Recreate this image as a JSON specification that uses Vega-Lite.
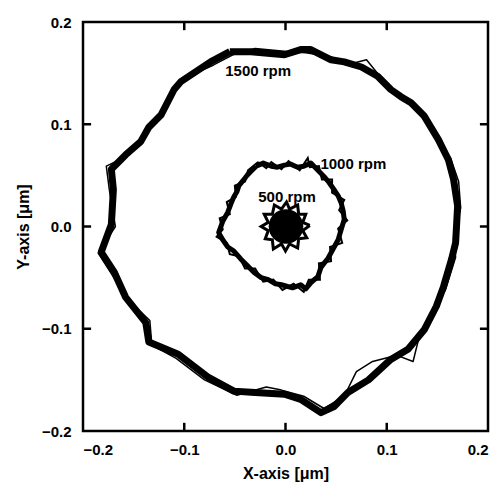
{
  "$schema": "https://vega.github.io/schema/vega-lite/v6.json",
  "width": 405,
  "height": 409,
  "autosize": {"type": "none"},
  "padding": {"left": 83, "top": 22, "right": 13, "bottom": 58},
  "background": "white",
  "config": {
    "view": {"stroke": "black", "strokeWidth": 2.5},
    "font": "Liberation Sans",
    "axis": {
      "domain": false,
      "grid": false,
      "ticks": false,
      "labelFont": "Liberation Sans",
      "labelFontWeight": "bold",
      "labelFontSize": 15,
      "labelColor": "black",
      "titleFont": "Liberation Sans",
      "titleFontWeight": "bold",
      "titleFontSize": 16,
      "titleColor": "black"
    }
  },
  "datasets": {
    "orbits": [
      {"s": "1500a", "i": 1, "x": -0.055, "y": 0.171},
      {"s": "1500a", "i": 2, "x": -0.034, "y": 0.171},
      {"s": "1500a", "i": 3, "x": -0.001, "y": 0.168},
      {"s": "1500a", "i": 4, "x": 0.015, "y": 0.173},
      {"s": "1500a", "i": 5, "x": 0.025, "y": 0.173},
      {"s": "1500a", "i": 6, "x": 0.045, "y": 0.163},
      {"s": "1500a", "i": 7, "x": 0.058, "y": 0.161},
      {"s": "1500a", "i": 8, "x": 0.075, "y": 0.156},
      {"s": "1500a", "i": 9, "x": 0.091, "y": 0.147},
      {"s": "1500a", "i": 10, "x": 0.104, "y": 0.134},
      {"s": "1500a", "i": 11, "x": 0.114, "y": 0.127},
      {"s": "1500a", "i": 12, "x": 0.124, "y": 0.121},
      {"s": "1500a", "i": 13, "x": 0.137, "y": 0.108},
      {"s": "1500a", "i": 14, "x": 0.151, "y": 0.085},
      {"s": "1500a", "i": 15, "x": 0.161, "y": 0.065},
      {"s": "1500a", "i": 16, "x": 0.166, "y": 0.046},
      {"s": "1500a", "i": 17, "x": 0.170, "y": 0.020},
      {"s": "1500a", "i": 18, "x": 0.168, "y": -0.016},
      {"s": "1500a", "i": 19, "x": 0.164, "y": -0.032},
      {"s": "1500a", "i": 20, "x": 0.156, "y": -0.059},
      {"s": "1500a", "i": 21, "x": 0.149, "y": -0.078},
      {"s": "1500a", "i": 22, "x": 0.137, "y": -0.101},
      {"s": "1500a", "i": 23, "x": 0.121, "y": -0.120},
      {"s": "1500a", "i": 24, "x": 0.104, "y": -0.130},
      {"s": "1500a", "i": 25, "x": 0.082, "y": -0.150},
      {"s": "1500a", "i": 26, "x": 0.062, "y": -0.162},
      {"s": "1500a", "i": 27, "x": 0.048, "y": -0.176},
      {"s": "1500a", "i": 28, "x": 0.035, "y": -0.182},
      {"s": "1500a", "i": 29, "x": 0.015, "y": -0.169},
      {"s": "1500a", "i": 30, "x": -0.001, "y": -0.164},
      {"s": "1500a", "i": 31, "x": -0.034, "y": -0.162},
      {"s": "1500a", "i": 32, "x": -0.051, "y": -0.161},
      {"s": "1500a", "i": 33, "x": -0.077, "y": -0.147},
      {"s": "1500a", "i": 34, "x": -0.106, "y": -0.125},
      {"s": "1500a", "i": 35, "x": -0.135, "y": -0.113},
      {"s": "1500a", "i": 36, "x": -0.138, "y": -0.094},
      {"s": "1500a", "i": 37, "x": -0.158, "y": -0.069},
      {"s": "1500a", "i": 38, "x": -0.169, "y": -0.045},
      {"s": "1500a", "i": 39, "x": -0.182, "y": -0.025},
      {"s": "1500a", "i": 40, "x": -0.172, "y": 0.002},
      {"s": "1500a", "i": 41, "x": -0.170, "y": 0.036},
      {"s": "1500a", "i": 42, "x": -0.172, "y": 0.056},
      {"s": "1500a", "i": 43, "x": -0.158, "y": 0.070},
      {"s": "1500a", "i": 44, "x": -0.143, "y": 0.083},
      {"s": "1500a", "i": 45, "x": -0.135, "y": 0.097},
      {"s": "1500a", "i": 46, "x": -0.123, "y": 0.109},
      {"s": "1500a", "i": 47, "x": -0.110, "y": 0.134},
      {"s": "1500a", "i": 48, "x": -0.103, "y": 0.142},
      {"s": "1500a", "i": 49, "x": -0.074, "y": 0.161},
      {"s": "1500a", "i": 50, "x": -0.055, "y": 0.171},

      {"s": "1500b", "i": 1, "x": -0.052, "y": 0.168},
      {"s": "1500b", "i": 2, "x": -0.030, "y": 0.174},
      {"s": "1500b", "i": 3, "x": 0.004, "y": 0.171},
      {"s": "1500b", "i": 4, "x": 0.020, "y": 0.170},
      {"s": "1500b", "i": 5, "x": 0.045, "y": 0.166},
      {"s": "1500b", "i": 6, "x": 0.060, "y": 0.158},
      {"s": "1500b", "i": 7, "x": 0.080, "y": 0.163},
      {"s": "1500b", "i": 8, "x": 0.094, "y": 0.146},
      {"s": "1500b", "i": 9, "x": 0.108, "y": 0.131},
      {"s": "1500b", "i": 10, "x": 0.119, "y": 0.126},
      {"s": "1500b", "i": 11, "x": 0.133, "y": 0.110},
      {"s": "1500b", "i": 12, "x": 0.148, "y": 0.088},
      {"s": "1500b", "i": 13, "x": 0.163, "y": 0.067},
      {"s": "1500b", "i": 14, "x": 0.171, "y": 0.044},
      {"s": "1500b", "i": 15, "x": 0.173, "y": 0.018},
      {"s": "1500b", "i": 16, "x": 0.166, "y": -0.012},
      {"s": "1500b", "i": 17, "x": 0.168, "y": -0.030},
      {"s": "1500b", "i": 18, "x": 0.158, "y": -0.062},
      {"s": "1500b", "i": 19, "x": 0.146, "y": -0.082},
      {"s": "1500b", "i": 20, "x": 0.133, "y": -0.104},
      {"s": "1500b", "i": 21, "x": 0.126, "y": -0.132},
      {"s": "1500b", "i": 22, "x": 0.110, "y": -0.126},
      {"s": "1500b", "i": 23, "x": 0.086, "y": -0.132},
      {"s": "1500b", "i": 24, "x": 0.070, "y": -0.142},
      {"s": "1500b", "i": 25, "x": 0.058, "y": -0.166},
      {"s": "1500b", "i": 26, "x": 0.038, "y": -0.178},
      {"s": "1500b", "i": 27, "x": 0.018, "y": -0.166},
      {"s": "1500b", "i": 28, "x": -0.004, "y": -0.160},
      {"s": "1500b", "i": 29, "x": -0.019, "y": -0.157},
      {"s": "1500b", "i": 30, "x": -0.048, "y": -0.165},
      {"s": "1500b", "i": 31, "x": -0.080, "y": -0.150},
      {"s": "1500b", "i": 32, "x": -0.108, "y": -0.129},
      {"s": "1500b", "i": 33, "x": -0.132, "y": -0.116},
      {"s": "1500b", "i": 34, "x": -0.134, "y": -0.092},
      {"s": "1500b", "i": 35, "x": -0.155, "y": -0.072},
      {"s": "1500b", "i": 36, "x": -0.172, "y": -0.046},
      {"s": "1500b", "i": 37, "x": -0.185, "y": -0.026},
      {"s": "1500b", "i": 38, "x": -0.168, "y": 0.000},
      {"s": "1500b", "i": 39, "x": -0.174, "y": 0.036},
      {"s": "1500b", "i": 40, "x": -0.177, "y": 0.059},
      {"s": "1500b", "i": 41, "x": -0.160, "y": 0.067},
      {"s": "1500b", "i": 42, "x": -0.146, "y": 0.080},
      {"s": "1500b", "i": 43, "x": -0.132, "y": 0.100},
      {"s": "1500b", "i": 44, "x": -0.126, "y": 0.106},
      {"s": "1500b", "i": 45, "x": -0.113, "y": 0.130},
      {"s": "1500b", "i": 46, "x": -0.100, "y": 0.145},
      {"s": "1500b", "i": 47, "x": -0.071, "y": 0.158},
      {"s": "1500b", "i": 48, "x": -0.052, "y": 0.168},

      {"s": "1000a", "i": 1, "x": -0.029, "y": 0.059},
      {"s": "1000a", "i": 2, "x": -0.034, "y": 0.054},
      {"s": "1000a", "i": 3, "x": -0.038, "y": 0.050},
      {"s": "1000a", "i": 4, "x": -0.041, "y": 0.046},
      {"s": "1000a", "i": 5, "x": -0.046, "y": 0.040},
      {"s": "1000a", "i": 6, "x": -0.048, "y": 0.034},
      {"s": "1000a", "i": 7, "x": -0.051, "y": 0.029},
      {"s": "1000a", "i": 8, "x": -0.054, "y": 0.022},
      {"s": "1000a", "i": 9, "x": -0.057, "y": 0.014},
      {"s": "1000a", "i": 10, "x": -0.062, "y": 0.005},
      {"s": "1000a", "i": 11, "x": -0.066, "y": -0.006},
      {"s": "1000a", "i": 12, "x": -0.062, "y": -0.013},
      {"s": "1000a", "i": 13, "x": -0.057, "y": -0.020},
      {"s": "1000a", "i": 14, "x": -0.051, "y": -0.024},
      {"s": "1000a", "i": 15, "x": -0.044, "y": -0.032},
      {"s": "1000a", "i": 16, "x": -0.038, "y": -0.038},
      {"s": "1000a", "i": 17, "x": -0.031, "y": -0.045},
      {"s": "1000a", "i": 18, "x": -0.024, "y": -0.050},
      {"s": "1000a", "i": 19, "x": -0.017, "y": -0.052},
      {"s": "1000a", "i": 20, "x": -0.010, "y": -0.056},
      {"s": "1000a", "i": 21, "x": -0.004, "y": -0.057},
      {"s": "1000a", "i": 22, "x": 0.007, "y": -0.060},
      {"s": "1000a", "i": 23, "x": 0.015, "y": -0.057},
      {"s": "1000a", "i": 24, "x": 0.020, "y": -0.061},
      {"s": "1000a", "i": 25, "x": 0.026, "y": -0.054},
      {"s": "1000a", "i": 26, "x": 0.032, "y": -0.049},
      {"s": "1000a", "i": 27, "x": 0.035, "y": -0.040},
      {"s": "1000a", "i": 28, "x": 0.042, "y": -0.031},
      {"s": "1000a", "i": 29, "x": 0.047, "y": -0.022},
      {"s": "1000a", "i": 30, "x": 0.052, "y": -0.013},
      {"s": "1000a", "i": 31, "x": 0.055, "y": -0.003},
      {"s": "1000a", "i": 32, "x": 0.058, "y": 0.007},
      {"s": "1000a", "i": 33, "x": 0.057, "y": 0.015},
      {"s": "1000a", "i": 34, "x": 0.055, "y": 0.023},
      {"s": "1000a", "i": 35, "x": 0.052, "y": 0.030},
      {"s": "1000a", "i": 36, "x": 0.048, "y": 0.036},
      {"s": "1000a", "i": 37, "x": 0.043, "y": 0.043},
      {"s": "1000a", "i": 38, "x": 0.038, "y": 0.049},
      {"s": "1000a", "i": 39, "x": 0.031, "y": 0.056},
      {"s": "1000a", "i": 40, "x": 0.025, "y": 0.062},
      {"s": "1000a", "i": 41, "x": 0.018, "y": 0.059},
      {"s": "1000a", "i": 42, "x": 0.012, "y": 0.058},
      {"s": "1000a", "i": 43, "x": 0.005, "y": 0.061},
      {"s": "1000a", "i": 44, "x": -0.001, "y": 0.060},
      {"s": "1000a", "i": 45, "x": -0.008, "y": 0.058},
      {"s": "1000a", "i": 46, "x": -0.014, "y": 0.059},
      {"s": "1000a", "i": 47, "x": -0.022, "y": 0.062},
      {"s": "1000a", "i": 48, "x": -0.029, "y": 0.059},

      {"s": "1000b", "i": 1, "x": -0.027, "y": 0.063},
      {"s": "1000b", "i": 2, "x": -0.037, "y": 0.055},
      {"s": "1000b", "i": 3, "x": -0.040, "y": 0.044},
      {"s": "1000b", "i": 4, "x": -0.050, "y": 0.040},
      {"s": "1000b", "i": 5, "x": -0.049, "y": 0.029},
      {"s": "1000b", "i": 6, "x": -0.058, "y": 0.024},
      {"s": "1000b", "i": 7, "x": -0.055, "y": 0.012},
      {"s": "1000b", "i": 8, "x": -0.065, "y": 0.008},
      {"s": "1000b", "i": 9, "x": -0.062, "y": -0.003},
      {"s": "1000b", "i": 10, "x": -0.068, "y": -0.010},
      {"s": "1000b", "i": 11, "x": -0.058, "y": -0.016},
      {"s": "1000b", "i": 12, "x": -0.055, "y": -0.027},
      {"s": "1000b", "i": 13, "x": -0.046, "y": -0.029},
      {"s": "1000b", "i": 14, "x": -0.040, "y": -0.041},
      {"s": "1000b", "i": 15, "x": -0.030, "y": -0.041},
      {"s": "1000b", "i": 16, "x": -0.022, "y": -0.054},
      {"s": "1000b", "i": 17, "x": -0.012, "y": -0.052},
      {"s": "1000b", "i": 18, "x": -0.003, "y": -0.062},
      {"s": "1000b", "i": 19, "x": 0.008, "y": -0.056},
      {"s": "1000b", "i": 20, "x": 0.018, "y": -0.064},
      {"s": "1000b", "i": 21, "x": 0.023, "y": -0.052},
      {"s": "1000b", "i": 22, "x": 0.034, "y": -0.052},
      {"s": "1000b", "i": 23, "x": 0.033, "y": -0.036},
      {"s": "1000b", "i": 24, "x": 0.045, "y": -0.034},
      {"s": "1000b", "i": 25, "x": 0.044, "y": -0.020},
      {"s": "1000b", "i": 26, "x": 0.056, "y": -0.016},
      {"s": "1000b", "i": 27, "x": 0.052, "y": -0.002},
      {"s": "1000b", "i": 28, "x": 0.061, "y": 0.006},
      {"s": "1000b", "i": 29, "x": 0.053, "y": 0.016},
      {"s": "1000b", "i": 30, "x": 0.058, "y": 0.026},
      {"s": "1000b", "i": 31, "x": 0.046, "y": 0.033},
      {"s": "1000b", "i": 32, "x": 0.046, "y": 0.046},
      {"s": "1000b", "i": 33, "x": 0.036, "y": 0.046},
      {"s": "1000b", "i": 34, "x": 0.033, "y": 0.059},
      {"s": "1000b", "i": 35, "x": 0.024, "y": 0.058},
      {"s": "1000b", "i": 36, "x": 0.022, "y": 0.067},
      {"s": "1000b", "i": 37, "x": 0.014, "y": 0.055},
      {"s": "1000b", "i": 38, "x": 0.003, "y": 0.064},
      {"s": "1000b", "i": 39, "x": -0.004, "y": 0.056},
      {"s": "1000b", "i": 40, "x": -0.014, "y": 0.063},
      {"s": "1000b", "i": 41, "x": -0.019, "y": 0.057},
      {"s": "1000b", "i": 42, "x": -0.027, "y": 0.063},

      {"s": "500", "i": 1, "x": 0.024, "y": 0.001},
      {"s": "500", "i": 2, "x": 0.017, "y": 0.004},
      {"s": "500", "i": 3, "x": 0.020, "y": 0.012},
      {"s": "500", "i": 4, "x": 0.013, "y": 0.012},
      {"s": "500", "i": 5, "x": 0.012, "y": 0.021},
      {"s": "500", "i": 6, "x": 0.004, "y": 0.017},
      {"s": "500", "i": 7, "x": 0.001, "y": 0.024},
      {"s": "500", "i": 8, "x": -0.004, "y": 0.017},
      {"s": "500", "i": 9, "x": -0.011, "y": 0.021},
      {"s": "500", "i": 10, "x": -0.013, "y": 0.012},
      {"s": "500", "i": 11, "x": -0.021, "y": 0.012},
      {"s": "500", "i": 12, "x": -0.017, "y": 0.004},
      {"s": "500", "i": 13, "x": -0.024, "y": 0.000},
      {"s": "500", "i": 14, "x": -0.017, "y": -0.004},
      {"s": "500", "i": 15, "x": -0.020, "y": -0.012},
      {"s": "500", "i": 16, "x": -0.013, "y": -0.013},
      {"s": "500", "i": 17, "x": -0.012, "y": -0.022},
      {"s": "500", "i": 18, "x": -0.004, "y": -0.017},
      {"s": "500", "i": 19, "x": 0.000, "y": -0.024},
      {"s": "500", "i": 20, "x": 0.004, "y": -0.017},
      {"s": "500", "i": 21, "x": 0.012, "y": -0.021},
      {"s": "500", "i": 22, "x": 0.013, "y": -0.012},
      {"s": "500", "i": 23, "x": 0.021, "y": -0.011},
      {"s": "500", "i": 24, "x": 0.017, "y": -0.004},
      {"s": "500", "i": 25, "x": 0.024, "y": 0.001}
    ],
    "centers": [{"x": 0.0005, "y": 0.0}],
    "tickmarks": [
      {"x": -0.1, "y": -0.2, "y2": -0.192},
      {"x": 0.0, "y": -0.2, "y2": -0.192},
      {"x": 0.1, "y": -0.2, "y2": -0.192},
      {"x": -0.1, "y": 0.2, "y2": 0.192},
      {"x": 0.0, "y": 0.2, "y2": 0.192},
      {"x": 0.1, "y": 0.2, "y2": 0.192}
    ],
    "ytickmarks": [
      {"x": -0.2, "x2": -0.192, "y": -0.1},
      {"x": -0.2, "x2": -0.192, "y": 0.0},
      {"x": -0.2, "x2": -0.192, "y": 0.1},
      {"x": 0.2, "x2": 0.192, "y": -0.1},
      {"x": 0.2, "x2": 0.192, "y": 0.0},
      {"x": 0.2, "x2": 0.192, "y": 0.1}
    ],
    "labels": [
      {"x": -0.027, "y": 0.152, "t": "1500 rpm"},
      {"x": 0.067, "y": 0.061, "t": "1000 rpm"},
      {"x": 0.0015, "y": 0.029, "t": "500 rpm"}
    ]
  },
  "layer": [
    {
      "data": {"name": "orbits"},
      "transform": [{"filter": "datum.s == '1500a'"}],
      "mark": {"type": "line", "color": "black", "strokeWidth": 7, "strokeJoin": "round"},
      "encoding": {
        "x": {"field": "x", "type": "quantitative", "scale": {"domain": [-0.2, 0.2], "nice": false}, "axis": {"orient": "bottom", "values": [-0.2, -0.1, 0, 0.1, 0.2], "format": ".1f", "title": "X-axis [μm]", "labelPadding": 11, "titlePadding": 8}},
        "y": {"field": "y", "type": "quantitative", "scale": {"domain": [-0.2, 0.2], "nice": false}, "axis": {"orient": "left", "values": [-0.2, -0.1, 0, 0.1, 0.2], "format": ".1f", "title": "Y-axis [μm]", "labelPadding": 12, "titlePadding": 10}},
        "order": {"field": "i", "type": "quantitative"}
      }
    },
    {
      "data": {"name": "orbits"},
      "transform": [{"filter": "datum.s == '1500b'"}],
      "mark": {"type": "line", "color": "black", "strokeWidth": 1.5, "strokeJoin": "round"},
      "encoding": {
        "x": {"field": "x", "type": "quantitative"},
        "y": {"field": "y", "type": "quantitative"},
        "order": {"field": "i", "type": "quantitative"}
      }
    },
    {
      "data": {"name": "orbits"},
      "transform": [{"filter": "datum.s == '1000a'"}],
      "mark": {"type": "line", "color": "black", "strokeWidth": 5, "strokeJoin": "round"},
      "encoding": {
        "x": {"field": "x", "type": "quantitative"},
        "y": {"field": "y", "type": "quantitative"},
        "order": {"field": "i", "type": "quantitative"}
      }
    },
    {
      "data": {"name": "orbits"},
      "transform": [{"filter": "datum.s == '1000b'"}],
      "mark": {"type": "line", "color": "black", "strokeWidth": 2, "strokeJoin": "miter"},
      "encoding": {
        "x": {"field": "x", "type": "quantitative"},
        "y": {"field": "y", "type": "quantitative"},
        "order": {"field": "i", "type": "quantitative"}
      }
    },
    {
      "data": {"name": "centers"},
      "mark": {"type": "point", "shape": "circle", "filled": true, "color": "black", "opacity": 1, "size": 1200},
      "encoding": {
        "x": {"field": "x", "type": "quantitative"},
        "y": {"field": "y", "type": "quantitative"}
      }
    },
    {
      "data": {"name": "orbits"},
      "transform": [{"filter": "datum.s == '500'"}],
      "mark": {"type": "line", "color": "black", "strokeWidth": 3, "strokeJoin": "miter"},
      "encoding": {
        "x": {"field": "x", "type": "quantitative"},
        "y": {"field": "y", "type": "quantitative"},
        "order": {"field": "i", "type": "quantitative"}
      }
    },
    {
      "data": {"name": "tickmarks"},
      "mark": {"type": "rule", "color": "black", "strokeWidth": 2.5},
      "encoding": {
        "x": {"field": "x", "type": "quantitative"},
        "y": {"field": "y", "type": "quantitative"},
        "y2": {"field": "y2"}
      }
    },
    {
      "data": {"name": "ytickmarks"},
      "mark": {"type": "rule", "color": "black", "strokeWidth": 2.5},
      "encoding": {
        "x": {"field": "x", "type": "quantitative"},
        "x2": {"field": "x2"},
        "y": {"field": "y", "type": "quantitative"}
      }
    },
    {
      "data": {"name": "labels"},
      "mark": {"type": "text", "font": "Liberation Sans", "fontWeight": "bold", "fontSize": 15, "color": "black", "align": "center", "baseline": "middle"},
      "encoding": {
        "x": {"field": "x", "type": "quantitative"},
        "y": {"field": "y", "type": "quantitative"},
        "text": {"field": "t"}
      }
    }
  ]
}
